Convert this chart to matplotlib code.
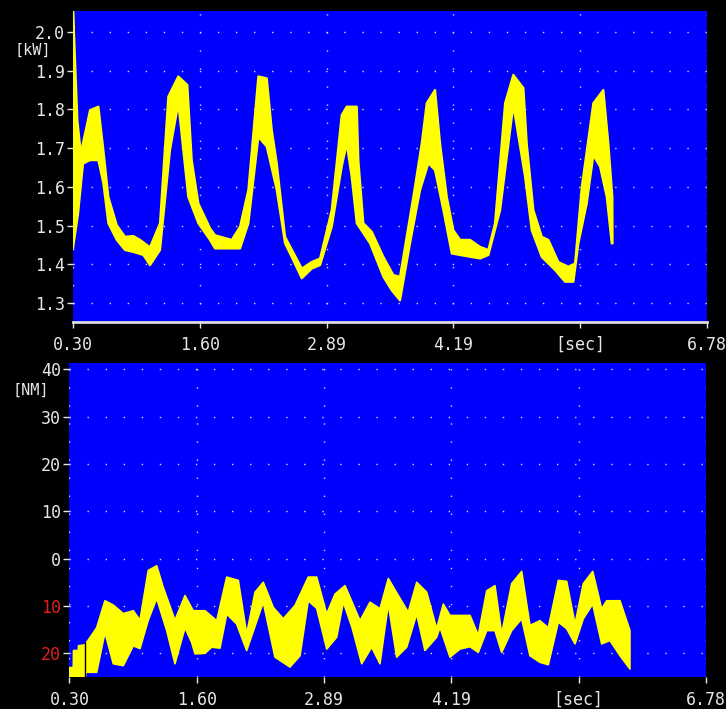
import numpy as np
import matplotlib
matplotlib.use("Agg")
import matplotlib.pyplot as plt

# power [kW] - upper and lower edge of the yellow band
p_hi_t = [0.300, 0.320, 0.344, 0.379, 0.423, 0.474, 0.559, 0.610, 0.661, 0.747, 0.831, 0.916, 0.985,
          1.087, 1.189, 1.274, 1.376, 1.468, 1.513, 1.581, 1.700, 1.751, 1.922, 2.007, 2.092, 2.194,
          2.280, 2.331, 2.382, 2.467, 2.638, 2.740, 2.825, 2.944, 3.046, 3.097, 3.200, 3.216, 3.267,
          3.353, 3.472, 3.574, 3.642, 3.778, 3.864, 3.915, 4.000, 4.051, 4.120, 4.187, 4.256, 4.358,
          4.460, 4.545, 4.613, 4.716, 4.800, 4.903, 4.937, 5.005, 5.091, 5.158, 5.260, 5.362, 5.431,
          5.499, 5.618, 5.720, 5.771, 5.812, 5.814]
p_hi = [2.06, 1.93, 1.773, 1.687, 1.738, 1.798, 1.807, 1.695, 1.574, 1.501, 1.471, 1.473, 1.463,
        1.444, 1.506, 1.833, 1.885, 1.863, 1.669, 1.557, 1.493, 1.475, 1.463, 1.497, 1.592, 1.885,
        1.880, 1.747, 1.661, 1.471, 1.389, 1.406, 1.415, 1.540, 1.785, 1.807, 1.807, 1.669, 1.506,
        1.484, 1.419, 1.372, 1.368, 1.574, 1.712, 1.816, 1.850, 1.712, 1.574, 1.488, 1.463, 1.463,
        1.445, 1.437, 1.506, 1.816, 1.889, 1.855, 1.712, 1.540, 1.471, 1.463, 1.406, 1.394, 1.402,
        1.598, 1.816, 1.850, 1.712, 1.574, 1.454]
p_lo_t = [0.300, 0.351, 0.402, 0.474, 0.559, 0.610, 0.661, 0.747, 0.831, 0.916, 1.019, 1.087, 1.189,
          1.291, 1.376, 1.478, 1.581, 1.700, 1.751, 2.007, 2.092, 2.194, 2.280, 2.382, 2.467, 2.535,
          2.638, 2.740, 2.825, 2.944, 3.046, 3.097, 3.148, 3.200, 3.336, 3.472, 3.557, 3.642, 3.744,
          3.847, 3.932, 4.000, 4.085, 4.171, 4.256, 4.460, 4.545, 4.665, 4.800, 4.920, 4.988, 5.091,
          5.227, 5.329, 5.414, 5.465, 5.550, 5.618, 5.687, 5.755, 5.806]
p_lo = [1.442, 1.53, 1.66, 1.669, 1.669, 1.609, 1.506, 1.463, 1.437, 1.432, 1.424, 1.398, 1.437,
        1.695, 1.816, 1.574, 1.506, 1.463, 1.441, 1.441, 1.506, 1.729, 1.704, 1.592, 1.454, 1.419,
        1.364, 1.389, 1.398, 1.497, 1.652, 1.712, 1.626, 1.506, 1.454, 1.368, 1.333, 1.307, 1.454,
        1.592, 1.661, 1.643, 1.540, 1.428, 1.424, 1.415, 1.424, 1.540, 1.811, 1.626, 1.488, 1.419,
        1.385, 1.355, 1.355, 1.454, 1.557, 1.682, 1.652, 1.574, 1.454]

# torque [NM]
m_hi_t = [0.300, 0.339, 0.341, 0.390, 0.392, 0.458, 0.577, 0.661, 0.746, 0.848, 0.950, 1.018, 1.102,
          1.188, 1.255, 1.374, 1.476, 1.560, 1.680, 1.799, 1.901, 2.019, 2.104, 2.189, 2.273, 2.375,
          2.477, 2.596, 2.731, 2.817, 2.919, 3.003, 3.105, 3.258, 3.360, 3.461, 3.546, 3.648, 3.749,
          3.835, 3.937, 4.038, 4.106, 4.174, 4.378, 4.462, 4.548, 4.632, 4.700, 4.802, 4.904, 4.988,
          5.090, 5.175, 5.277, 5.362, 5.447, 5.531, 5.627, 5.718, 5.769, 5.905, 6.006]
m_hi = [-23.0, -23.0, -19.4, -19.4, -18.4, -18.2, -14.6, -8.9, -9.8, -11.6, -11.0, -13.0, -2.5,
        -1.5, -6.1, -13.0, -7.8, -11.0, -11.0, -13.1, -3.9, -4.6, -15.9, -7.1, -5.0, -10.3,
        -12.7, -9.9, -3.9, -3.9, -11.7, -7.5, -5.7, -13.1, -9.2, -10.6, -4.2, -7.8, -11.3,
        -5.0, -7.1, -14.8, -9.6, -12.0, -12.0, -16.2, -6.8, -5.7, -15.9, -5.3, -2.7, -14.1,
        -13.1, -14.6, -4.6, -4.8, -13.8, -5.3, -2.7, -10.6, -8.9, -8.9, -15.2]
m_lo_t = [0.300, 0.458, 0.468, 0.577, 0.661, 0.746, 0.848, 0.950, 1.018, 1.102, 1.188, 1.290, 1.374,
          1.476, 1.544, 1.578, 1.680, 1.748, 1.832, 1.901, 2.002, 2.104, 2.273, 2.392, 2.545, 2.647,
          2.731, 2.817, 2.919, 3.020, 3.088, 3.176, 3.275, 3.377, 3.461, 3.546, 3.631, 3.733, 3.835,
          3.919, 4.038, 4.072, 4.174, 4.276, 4.378, 4.462, 4.548, 4.632, 4.700, 4.802, 4.904, 4.988,
          5.090, 5.175, 5.277, 5.362, 5.447, 5.531, 5.627, 5.718, 5.803, 5.905, 6.006]
m_lo = [-26.0, -26.0, -24.0, -24.0, -15.6, -22.2, -22.6, -18.4, -19.0, -13.0, -8.4, -15.2, -22.2,
        -14.6, -17.7, -20.1, -20.0, -18.7, -18.9, -11.7, -13.8, -19.4, -9.2, -20.8, -22.9, -20.5,
        -8.9, -10.5, -19.1, -16.6, -9.2, -14.5, -22.2, -18.7, -22.2, -9.6, -20.8, -18.7, -11.7,
        -19.4, -16.6, -14.5, -20.8, -19.1, -18.6, -19.8, -15.2, -15.2, -19.8, -15.2, -12.7, -20.5,
        -21.9, -22.4, -13.4, -14.8, -18.0, -12.7, -9.6, -18.0, -17.3, -20.5, -23.3]

x_ticks = [0.30, 1.596, 2.892, 4.188, 5.484, 6.78]
x_labels = ["0.30", "1.60", "2.89", "4.19", "[sec]", "6.78"]
p_ticks = [1.3, 1.4, 1.5, 1.6, 1.7, 1.8, 1.9, 2.0]
p_labels = ["1.3", "1.4", "1.5", "1.6", "1.7", "1.8", "1.9", "2.0"]
m_ticks = [40, 30, 20, 10, 0, -10, -20]
m_labels = ["40", "30", "20", "10", "0", "10", "20"]

BLUE = "#0000ff"
YELLOW = "#ffff00"
FG = "#e6e6e6"
RED = "#e02020"
MONO = "DejaVu Sans Mono"

fig = plt.figure(figsize=(7.26, 7.09), dpi=100, facecolor="black")
ax1 = fig.add_axes([0.1006, 0.5458, 0.8733, 0.4387])
ax2 = fig.add_axes([0.0957, 0.0451, 0.8767, 0.4429])


def style(ax, yt, yl):
    ax.set_facecolor(BLUE)
    ax.set_xlim(0.30, 6.78)
    ax.set_xticks(x_ticks)
    ax.set_xticklabels(x_labels, family=MONO, fontsize=12, color=FG)
    ax.set_yticks(yt)
    ax.set_yticklabels(yl, family=MONO, fontsize=12, color=FG)
    ax.tick_params(colors=FG, length=4, width=1, pad=2)
    ax.tick_params(axis="x", pad=6)
    for s in ax.spines.values():
        s.set_visible(False)
    ax.grid(True, color="#d8d8e8", linewidth=1.0, dashes=(1, 12))
    ax.set_axisbelow(True)


style(ax1, p_ticks, p_labels)
ax1.set_ylim(1.251, 2.054)
ax1.spines["bottom"].set_visible(True)
ax1.spines["bottom"].set_color("#dcdcdc")
ax1.spines["bottom"].set_linewidth(2)
ax1.fill(np.concatenate([p_hi_t, p_lo_t[::-1]]), np.concatenate([p_hi, p_lo[::-1]]),
         facecolor=YELLOW, edgecolor=YELLOW, lw=1.6, joinstyle="round", zorder=3)

style(ax2, m_ticks, m_labels)
ax2.set_ylim(-25.0, 41.3)
for lab, v in zip(ax2.get_yticklabels(), m_ticks):
    if v < 0:
        lab.set_color(RED)
ax2.fill(np.concatenate([m_hi_t, m_lo_t[::-1]]), np.concatenate([m_hi, m_lo[::-1]]),
         facecolor=YELLOW, edgecolor=YELLOW, lw=1.2, joinstyle="round", zorder=3)
ax2.vlines(0.458, -26, -17.7, color="black", lw=1, zorder=4)

fig.text(15 / 726, 1 - 50 / 709, "[kW]", family=MONO, fontsize=11, color=FG, va="center")
fig.text(12 / 726, 1 - 390 / 709, "[NM]", family=MONO, fontsize=11, color=FG, va="center")

fig.savefig("out.png", dpi=100, facecolor="black")
